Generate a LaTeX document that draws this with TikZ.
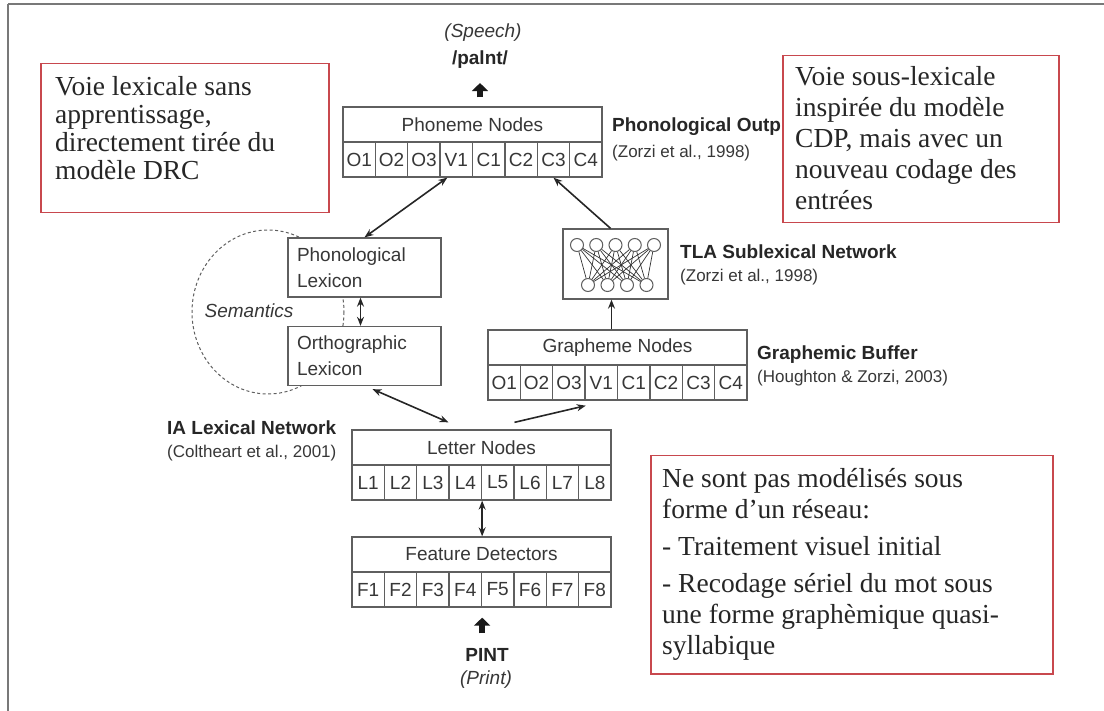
\documentclass[tikz,border=0pt]{standalone}
\usepackage{fontspec}
\setmainfont{Liberation Serif}
\setsansfont{Liberation Sans}
\usepackage{tikz}
\usetikzlibrary{arrows.meta,positioning}
\definecolor{boxline}{RGB}{95,95,95}
\definecolor{boxtext}{RGB}{55,55,55}
\definecolor{notered}{RGB}{200,72,78}
\definecolor{framegray}{RGB}{120,120,120}
\newcommand{\nodefont}{\sffamily\fontsize{19}{26}\selectfont}
\newcommand{\citefont}{\sffamily\fontsize{17}{20}\selectfont}
\newcommand{\notefont}{\rmfamily\fontsize{27.5}{28}\selectfont}

\begin{document}
\begin{tikzpicture}[x=1pt,y=-1pt,>={Stealth[length=9pt,width=7pt]},
	layer/.style={draw=boxline,fill=white,line width=1.3pt,inner sep=0pt,minimum width=259pt,minimum height=35pt,font=\nodefont,text=boxtext},
	cell/.style={layer,minimum width=32.375pt},
	lexbox/.style={layer,minimum width=153pt,minimum height=59pt,text width=135pt,align=left},
	unit/.style={circle,draw=boxline,line width=1pt,fill=white,minimum size=13pt,inner sep=0pt},
	wire/.style={line width=0.7pt,black!80},
	link/.style={->,line width=1.6pt,black!85},
	twoway/.style={<->,line width=1.6pt,black!85},
	fat/.style={-{Triangle[length=8pt,width=16pt]},line width=6pt,black!90},
	lbl/.style={font=\sffamily\bfseries\fontsize{19}{22}\selectfont,text=black!85,anchor=west,inner sep=0pt},
	cite/.style={font=\citefont,text=boxtext,anchor=west,inner sep=0pt},
	slant/.style={font=\sffamily\itshape\fontsize{19}{22}\selectfont,text=boxtext,inner sep=0pt},
	redbox/.style={draw=notered,line width=1.5pt,fill=white,anchor=north west,inner sep=0pt},
	notetext/.style={font=\notefont,text=black!85,align=left,anchor=north west,inner sep=0pt}]
\useasboundingbox (0,0) rectangle (1104,711);

% page frame
\draw[framegray,line width=2pt] (8,4) -- (1104,4);
\draw[framegray,line width=2pt] (8,4) -- (8,711);

% semantics
\draw[boxline,dashed,line width=1pt,dash pattern=on 3pt off 2.5pt] (268,312) ellipse [x radius=76, y radius=82];
\node[slant] (sem) at (249,311) {Semantics};

% output
\node[slant] (speech) at (483,33) {(Speech)};
\node[lbl,anchor=center] (palnt) at (480,60) {/palnt/};
\node[layer] (phohead) at (472.5,124.5) {Phoneme Nodes};
\foreach \lab [count=\i] in {O1,O2,O3,V1,C1,C2,C3,C4}
	\node[cell] (po\i) at ({343+32.375*(\i-0.5)},159.5) {\lab};
\node[lbl] (phonout) at (612,127) {Phonological Output};
\node[cite] (phoncite) at (612,153) {(Zorzi et al., 1998)};

% lexical route
\node[lexbox] (phlex) at (364.5,267.5) {Phonological\\Lexicon};
\node[lexbox] (orlex) at (364.5,356) {Orthographic\\Lexicon};

% sublexical route
\node[draw=boxline,fill=white,line width=1.3pt,minimum width=105pt,minimum height=70pt] (tla) at (615.5,264) {};
\foreach \i in {1,...,5}
	\node[unit] (t\i) at ({577+19.25*(\i-1)},245) {};
\foreach \j in {1,...,4}
	\node[unit] (b\j) at ({588+19.5*(\j-1)},285) {};
\foreach \i in {1,...,5}
	\foreach \j in {1,...,4}
		\draw[wire] (t\i) -- (b\j);
\node[lbl] (tlalbl) at (680,252) {TLA Sublexical Network};
\node[cite] (tlacite) at (680,277) {(Zorzi et al., 1998)};

\node[layer] (gphead) at (617.5,347.5) {Grapheme Nodes};
\foreach \lab [count=\i] in {O1,O2,O3,V1,C1,C2,C3,C4}
	\node[cell] (gc\i) at ({488+32.375*(\i-0.5)},382.5) {\lab};
\node[lbl] (gblbl) at (757,355) {Graphemic Buffer};
\node[cite] (gbcite) at (757,378) {(Houghton \& Zorzi, 2003)};

% input
\node[layer] (lethead) at (481.5,447.5) {Letter Nodes};
\foreach \i in {1,...,8}
	\node[cell] (lc\i) at ({352+32.375*(\i-0.5)},482.5) {L\i};
\node[lbl] (ialbl) at (167,428) {IA Lexical Network};
\node[cite] (iacite) at (167,453) {(Coltheart et al., 2001)};

\node[layer] (feathead) at (481.5,554.5) {Feature Detectors};
\foreach \i in {1,...,8}
	\node[cell] (fd\i) at ({352+32.375*(\i-0.5)},589.5) {F\i};
\node[lbl,anchor=center] (pint) at (487,655) {PINT};
\node[slant] (print) at (486,680) {(Print)};

% connections
\draw[fat,shorten <=9pt,shorten >=14pt] (phohead.north -| palnt.south) -- (palnt.south);
\draw[twoway] ([xshift=-9pt]po4.south) -- (phlex.north);
\draw[link] ([xshift=-5pt]tla.north) -- (po7.south);
\draw[link] ([xshift=-4pt]tla.south |- gphead.north) -- ([xshift=-4pt]tla.south);
\draw[twoway] ([xshift=-4pt]phlex.south) -- ([xshift=-4pt]orlex.north);
\draw[twoway] ([shift={(8pt,-3pt)}]orlex.south) -- ([shift={(-33pt,7pt)}]lethead.north);
\draw[link] ([shift={(33pt,7pt)}]lethead.north) -- ([yshift=-5pt]gc3.south east);
\draw[twoway] (lc4.south east) -- (lc4.south east |- feathead.north);
\draw[fat,shorten <=15pt,shorten >=10pt] (fd4.south east |- pint.north) -- (fd4.south east);

% notes
\node[redbox,minimum width=288pt,minimum height=149pt] (lexnote) at (40,63) {};
\node[notetext] (lextext) at (55,76) {Voie lexicale sans\\apprentissage,\\directement tirée du\\modèle DRC};
\node[redbox,minimum width=276pt,minimum height=167pt] (sublexnote) at (782,55) {};
\node[notetext,font=\rmfamily\fontsize{27.5}{31}\selectfont] (sublextext) at (795,66) {Voie sous-lexicale\\inspirée du modèle\\CDP, mais avec un\\nouveau codage des\\entrées};
\node[redbox,minimum width=402pt,minimum height=218pt] (inputnote) at (650,455) {};
\node[notetext,font=\rmfamily\fontsize{27.5}{31}\selectfont] (inputtext) at (662,468) {Ne sont pas modélisés sous\\forme d’un réseau:\\[6pt]- Traitement visuel initial\\[6pt]- Recodage sériel du mot sous\\une forme graphèmique quasi-\\syllabique};
\end{tikzpicture}
\end{document}
